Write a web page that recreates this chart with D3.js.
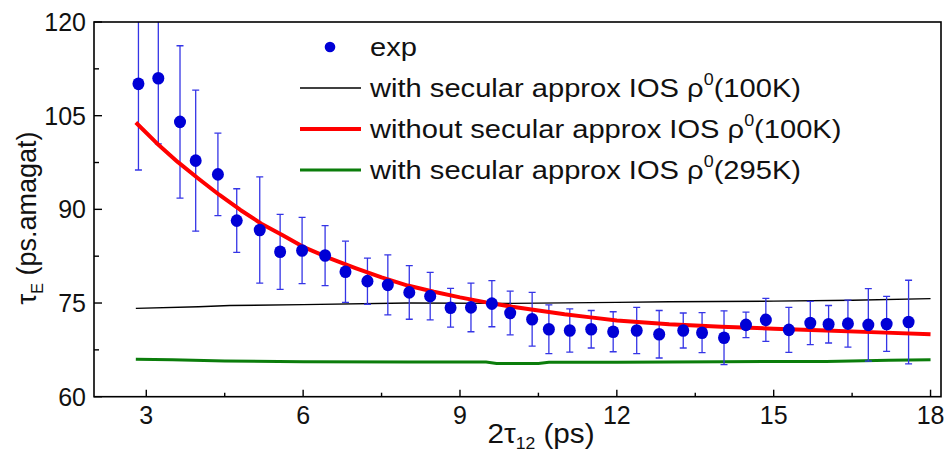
<!DOCTYPE html>
<html><head><meta charset="utf-8">
<script src="https://cdn.jsdelivr.net/npm/d3@7"></script>
<style>html,body{margin:0;padding:0;background:#fff;}svg{display:block;font-family:"Liberation Sans",Arial,sans-serif;}</style>
</head><body>
<svg id="chart" width="950" height="454"></svg>
<script>
// experimental points
const expX = [2.85,3.23,3.645,3.945,4.37,4.73,5.17,5.56,5.98,6.42,6.81,7.23,7.62,8.03,8.43,8.82,9.21,9.61,9.96,10.38,10.70,11.10,11.51,11.93,12.38,12.81,13.27,13.63,14.05,14.47,14.85,15.29,15.70,16.05,16.42,16.81,17.16,17.58];
const expY = [110.1,111.0,104.0,97.8,95.6,88.2,86.7,83.2,83.4,82.6,80.0,78.5,77.9,76.7,76.1,74.25,74.3,74.9,73.4,72.4,70.8,70.6,70.8,70.4,70.6,70.0,70.6,70.25,69.45,71.5,72.3,70.7,71.8,71.6,71.7,71.5,71.65,71.95];
const expErr = [13.8,10.5,12.2,11.3,6.6,5.1,8.5,6.0,5.3,4.8,4.9,3.7,4.8,4.3,3.8,3.1,3.9,3.7,3.5,4.3,3.9,3.45,3.0,3.2,3.7,3.8,2.8,3.2,4.3,2.05,3.45,3.6,3.45,3.0,3.75,5.8,4.4,6.7];
// with secular approx IOS rho0(100K)
const blackX = [2.8,4.0,4.6,6.0,8.0,10.0,12.0,13.0,15.0,16.5,18.0];
const blackY = [74.15,74.4,74.6,74.75,75.0,74.95,75.1,75.2,75.3,75.45,75.7];
// without secular approx IOS rho0(100K)
const redX = [2.8,3.2,3.6,4.0,4.4,4.8,5.2,5.6,6.0,6.5,7.0,7.5,8.0,8.5,9.0,9.5,10.0,10.5,11.0,11.5,12.0,13.0,14.0,15.0,16.0,17.0,18.0];
const redY = [103.9,100.6,97.6,94.9,92.3,89.9,87.7,85.9,84.0,82.2,80.6,79.1,77.8,76.8,75.9,75.1,74.4,73.8,73.2,72.7,72.2,71.6,71.2,70.9,70.6,70.3,70.0];
// with secular approx IOS rho0(295K)
const greenX = [2.8,3.5,4.5,6.0,8.0,9.5,9.7,10.5,10.7,12.0,14.0,16.0,17.2,18.0];
const greenY = [66.0,65.9,65.7,65.6,65.55,65.55,65.3,65.3,65.5,65.5,65.6,65.65,65.85,65.9];
// ticks
const xTicks = [3,6,9,12,15,18];
const xMinor = [4.5,7.5,10.5,13.5,16.5];
const yTicks = [60,75,90,105,120];
const yMinor = [67.5,82.5,97.5,112.5];
const legendLabels = ["exp","with secular approx IOS ","without secular approx IOS ","with secular approx IOS "];
const legendTails = ["","(100K)","(100K)","(295K)"];

const svg = d3.select("#chart");
const L=94, R=941, T=22, B=396.7;
const x = d3.scaleLinear().domain([2,18.2]).range([L,R]);
const y = d3.scaleLinear().domain([60,120]).range([B,T]);

svg.append("defs").append("clipPath").attr("id","clip")
  .append("rect").attr("x",L).attr("y",T).attr("width",R-L).attr("height",B-T);

const g = svg.append("g").attr("clip-path","url(#clip)");
const line = (xs,ys)=>d3.line().x((d,i)=>x(xs[i])).y((d,i)=>y(ys[i]))(xs);

g.append("path").attr("d",line(greenX,greenY)).attr("fill","none").attr("stroke","#0b7d0b").attr("stroke-width",3);
g.append("path").attr("d",line(blackX,blackY)).attr("fill","none").attr("stroke","#000").attr("stroke-width",1.4);

// error bars
const eb = g.append("g").attr("stroke","#3535e6").attr("stroke-width",1.3).attr("fill","none");
expX.forEach((xv,i)=>{
  const cx=x(xv), y1=y(expY[i]+expErr[i]), y2=y(expY[i]-expErr[i]);
  eb.append("line").attr("x1",cx).attr("x2",cx).attr("y1",y1).attr("y2",y2);
  eb.append("line").attr("x1",cx-3.5).attr("x2",cx+3.5).attr("y1",y1).attr("y2",y1);
  eb.append("line").attr("x1",cx-3.5).attr("x2",cx+3.5).attr("y1",y2).attr("y2",y2);
});
g.append("path").attr("d",line(redX,redY)).attr("fill","none").attr("stroke","#ff0000").attr("stroke-width",4).attr("stroke-linejoin","round");

g.selectAll("ellipse.pt").data(expX).enter().append("ellipse").attr("class","pt")
  .attr("cx",d=>x(d)).attr("cy",(d,i)=>y(expY[i])).attr("rx",6).attr("ry",6.3).attr("fill","#0000d6");

// frame
svg.append("rect").attr("x",L).attr("y",T).attr("width",R-L).attr("height",B-T).attr("fill","none").attr("stroke","#000").attr("stroke-width",1.6);

// axes ticks
const ax = svg.append("g").attr("stroke","#000").attr("stroke-width",1.4);
xTicks.forEach(t=>ax.append("line").attr("x1",x(t)).attr("x2",x(t)).attr("y1",B).attr("y2",B-7));
xMinor.forEach(t=>ax.append("line").attr("x1",x(t)).attr("x2",x(t)).attr("y1",B).attr("y2",B-4));
yTicks.forEach(t=>ax.append("line").attr("x1",L).attr("x2",L+8).attr("y1",y(t)).attr("y2",y(t)));
yMinor.forEach(t=>ax.append("line").attr("x1",L).attr("x2",L+5).attr("y1",y(t)).attr("y2",y(t)));

const fs = 25;
svg.append("g").selectAll("text").data(xTicks).enter().append("text")
  .attr("x",d=>x(d)).attr("y",424).attr("text-anchor","middle").attr("font-size",fs).attr("fill","#111").text(d=>d);
svg.append("g").selectAll("text").data(yTicks).enter().append("text")
  .attr("x",86).attr("y",d=>y(d)+9).attr("text-anchor","end").attr("font-size",fs).attr("fill","#111").text(d=>d);

// axis titles
const xt = svg.append("text").attr("transform","translate(541,443) scale(1.1,1)").attr("text-anchor","middle").attr("font-size",27).attr("fill","#111");
xt.append("tspan").text("2\u03C4");
xt.append("tspan").attr("font-size",16).attr("dy",6).text("12");
xt.append("tspan").attr("dy",-6).text(" (ps)");

const yt = svg.append("text").attr("transform","translate(36,218) rotate(-90)").attr("text-anchor","middle").attr("font-size",27).attr("fill","#111");
yt.append("tspan").text("\u03C4");
yt.append("tspan").attr("font-size",16).attr("dy",7).text("E");
yt.append("tspan").attr("dy",-7).text(" (ps.amagat)");

// legend
const lg = svg.append("g");
const rows=[47,88,129,170];
lg.append("circle").attr("cx",330).attr("cy",rows[0]).attr("r",5.3).attr("fill","#0000d6");
const lc=[null,{c:"#000",w:1.4},{c:"#ff0000",w:4},{c:"#0b7d0b",w:3}];
for(let i=1;i<4;i++){
  lg.append("line").attr("x1",300).attr("x2",361).attr("y1",rows[i]).attr("y2",rows[i]).attr("stroke",lc[i].c).attr("stroke-width",lc[i].w);
}
legendLabels.forEach((t,i)=>{
  const tx = lg.append("text").attr("transform",`translate(370,${rows[i]+9}) scale(1.12,1)`).attr("font-size",26).attr("fill","#111");
  tx.append("tspan").text(t);
  if(i>0){
    tx.append("tspan").text("\u03C1");
    tx.append("tspan").attr("font-size",16).attr("dy",-12).text("0");
    tx.append("tspan").attr("dy",12).text(legendTails[i]);
  }
});
</script>
</body></html>
